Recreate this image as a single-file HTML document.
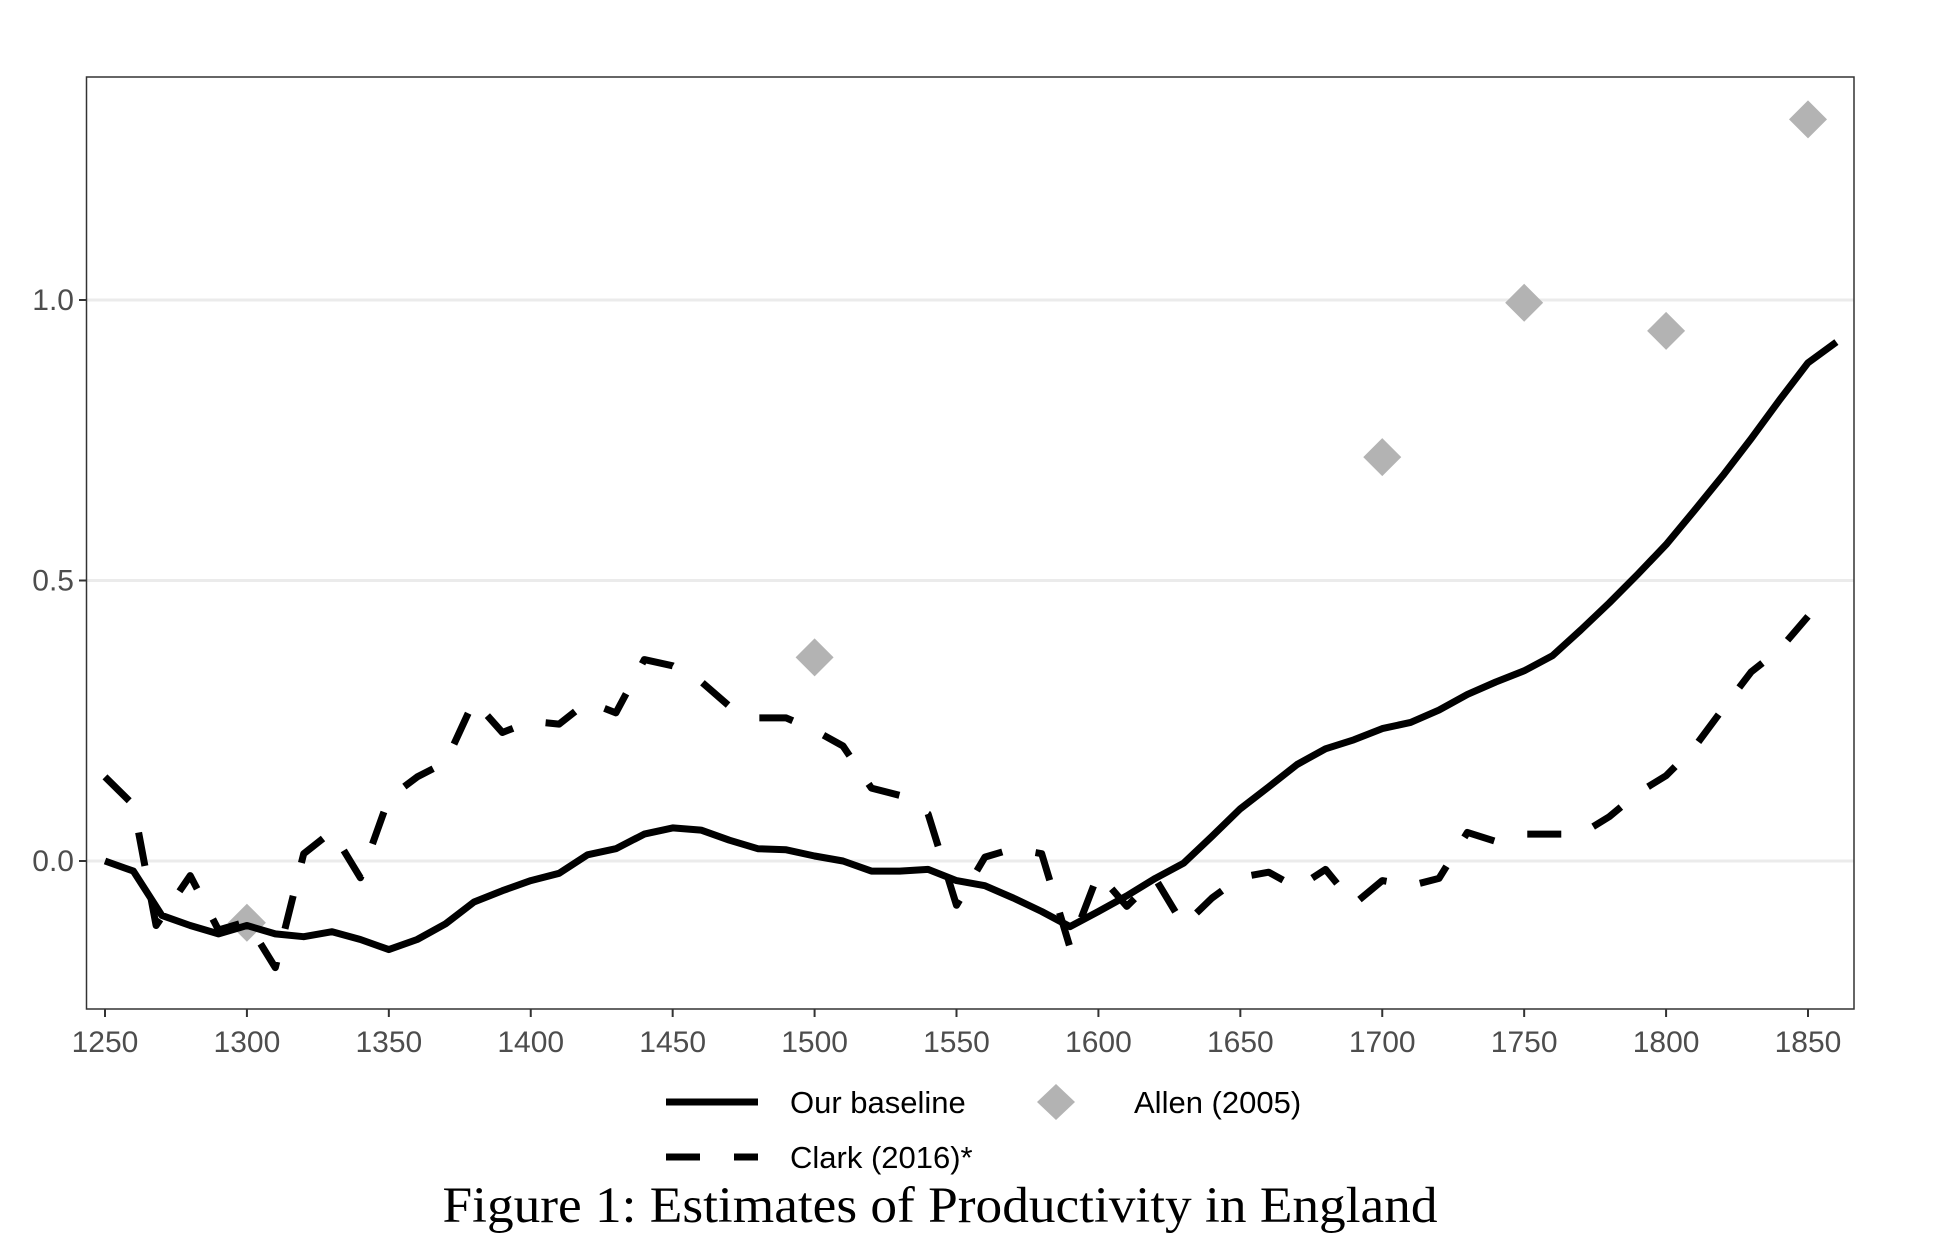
<!DOCTYPE html>
<html><head><meta charset="utf-8"><style>
body{margin:0;background:#fff;width:1938px;height:1242px;overflow:hidden}
svg{display:block}
</style></head><body>
<svg id="chart" width="1938" height="1242" xmlns="http://www.w3.org/2000/svg">
<g id="grid"></g>
<rect x="86.5" y="77" width="1767.5" height="932" fill="none" stroke="#333" stroke-width="1.5"/>
<g id="series"></g>
<g id="axes"></g>
<g font-family="Liberation Sans, sans-serif" font-size="31" fill="#000">
<line x1="666" y1="1102" x2="758" y2="1102" stroke="#000" stroke-width="7"/>
<text x="790" y="1113">Our baseline</text>
<path d="M1056,1084 L1075,1102 L1056,1120 L1037,1102 Z" fill="#b3b3b3"/>
<text x="1134" y="1113">Allen (2005)</text>
<line x1="666" y1="1157" x2="758" y2="1157" stroke="#000" stroke-width="7" stroke-dasharray="34 34"/>
<text x="790" y="1168">Clark (2016)*</text>
</g>
<text x="940" y="1222" text-anchor="middle" font-family="Liberation Serif, serif" font-size="51" fill="#000" textLength="995" lengthAdjust="spacingAndGlyphs">Figure 1: Estimates of Productivity in England</text>
</svg>
<script>
const baselineYears=[1250,1260,1270,1280,1290,1300,1310,1320,1330,1340,1350,1360,1370,1380,1390,1400,1410,1420,1430,1440,1450,1460,1470,1480,1490,1500,1510,1520,1530,1540,1550,1560,1570,1580,1590,1600,1610,1620,1630,1640,1650,1660,1670,1680,1690,1700,1710,1720,1730,1740,1750,1760,1770,1780,1790,1800,1810,1820,1830,1840,1850,1860];
const baselineValues=[0.0,-0.018,-0.097,-0.115,-0.13,-0.115,-0.13,-0.135,-0.126,-0.14,-0.158,-0.14,-0.112,-0.073,-0.053,-0.035,-0.022,0.011,0.022,0.048,0.059,0.055,0.037,0.022,0.02,0.009,0.0,-0.018,-0.018,-0.015,-0.035,-0.044,-0.066,-0.09,-0.117,-0.09,-0.062,-0.031,-0.004,0.044,0.093,0.132,0.172,0.2,0.216,0.236,0.247,0.269,0.297,0.319,0.339,0.366,0.412,0.46,0.511,0.564,0.625,0.687,0.753,0.822,0.888,0.925];
const clarkYears=[1250,1260,1268,1280,1290,1300,1310,1320,1330,1340,1350,1360,1370,1380,1390,1400,1410,1420,1430,1440,1450,1460,1470,1480,1490,1500,1510,1520,1530,1540,1550,1560,1570,1580,1590,1600,1610,1620,1630,1640,1650,1660,1670,1680,1690,1700,1710,1720,1730,1740,1750,1760,1770,1780,1790,1800,1810,1820,1830,1840,1850];
const clarkValues=[0.15,0.10,-0.115,-0.026,-0.123,-0.108,-0.19,0.013,0.053,-0.03,0.112,0.15,0.176,0.286,0.229,0.249,0.244,0.284,0.264,0.359,0.348,0.32,0.276,0.255,0.255,0.233,0.205,0.13,0.117,0.084,-0.079,0.007,0.022,0.013,-0.154,-0.022,-0.081,-0.031,-0.115,-0.066,-0.029,-0.02,-0.048,-0.015,-0.077,-0.035,-0.044,-0.031,0.051,0.035,0.048,0.048,0.048,0.079,0.121,0.152,0.203,0.271,0.337,0.377,0.436];
const allenYears=[1300,1500,1700,1750,1800,1850];
const allenValues=[-0.11,0.363,0.72,0.995,0.945,1.322];
const xTicks=[1250,1300,1350,1400,1450,1500,1550,1600,1650,1700,1750,1800,1850];
const yTicks=[0.0,0.5,1.0];
const yTickLabels=["0.0","0.5","1.0"];

const NS="http://www.w3.org/2000/svg";
function xs(v){return 105+(v-1250)*(1808-105)/600;}
function ys(v){return 861-v*561;}
function mk(tag,attrs,parent){const e=document.createElementNS(NS,tag);for(const k in attrs)e.setAttribute(k,attrs[k]);parent.appendChild(e);return e;}
const grid=document.getElementById('grid'),series=document.getElementById('series'),axes=document.getElementById('axes');
yTicks.forEach((t,i)=>{
  const g=mk('line',{x1:87,x2:1854,y1:ys(t),y2:ys(t),stroke:'#ebebeb','stroke-width':3},grid);
  
  
  const tk=mk('line',{x1:79,x2:86.5,y1:ys(t),y2:ys(t),stroke:'#333','stroke-width':2},axes);
  
  
  const tx=mk('text',{x:74,y:ys(t)+10,'text-anchor':'end','font-family':'Liberation Sans, sans-serif','font-size':30,fill:'#4d4d4d'},axes);
  tx.textContent=yTickLabels[i];
  
  
});
xTicks.forEach(t=>{
  const tk=mk('line',{x1:xs(t),x2:xs(t),y1:1009,y2:1017,stroke:'#333','stroke-width':2},axes);
  
  
  const tx=mk('text',{x:xs(t),y:1052,'text-anchor':'middle','font-family':'Liberation Sans, sans-serif','font-size':30,fill:'#4d4d4d'},axes);
  tx.textContent=t;
  
  
});
allenYears.forEach((yr,i)=>{
  const cx=xs(yr),cy=ys(allenValues[i]);
  const d=mk('path',{d:`M${cx},${cy-19} L${cx+19},${cy} L${cx},${cy+19} L${cx-19},${cy} Z`,fill:'#b3b3b3'},series);
  
  
});
function pts(xa,va){return xa.map((x,i)=>xs(x).toFixed(1)+','+ys(va[i]).toFixed(1)).join(' ');}
const cl=mk('polyline',{points:pts(clarkYears,clarkValues),fill:'none',stroke:'#000','stroke-width':7,'stroke-dasharray':'34 34','stroke-linejoin':'round'},series);


const bl=mk('polyline',{points:pts(baselineYears,baselineValues),fill:'none',stroke:'#000','stroke-width':7,'stroke-linejoin':'round'},series);


</script>
</body></html>
